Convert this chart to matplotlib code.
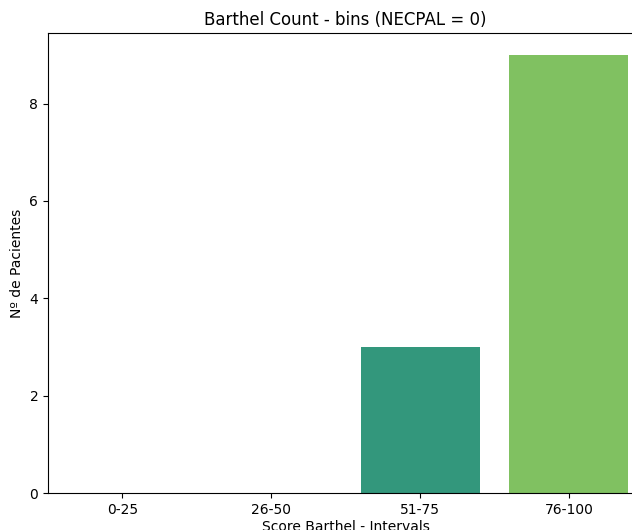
import matplotlib
matplotlib.use("Agg")
import matplotlib.pyplot as plt
import seaborn as sns
import numpy as np

intervals = ["0-25", "26-50", "51-75", "76-100"]
counts = [0, 0, 3, 9]

# viridis palette, desaturated like seaborn's barplot default
colors = [sns.desaturate(c, 0.75) for c in sns.color_palette("viridis", len(intervals))]

fig = plt.figure(figsize=(6.32, 5.3), dpi=100)
# axes runs a bit past the right edge, like the cropped original
ax = fig.add_axes([0.076, 0.0698, 0.942, 0.868])
x = np.arange(len(intervals))
ax.bar(x, counts, width=0.8, color=colors)
ax.set_xticks(x)
ax.set_xticklabels(intervals)
ax.set_xlim(-0.5, len(intervals) - 0.5)
ax.set_ylim(0, max(counts) * 1.05)
ax.set_yticks([0, 2, 4, 6, 8])
ax.set_title("Barthel Count - bins (NECPAL = 0)")
ax.set_xlabel("Score Barthel - Intervals", labelpad=2)
ax.set_ylabel("Nº de Pacientes")

fig.savefig("out.png", dpi=100)
